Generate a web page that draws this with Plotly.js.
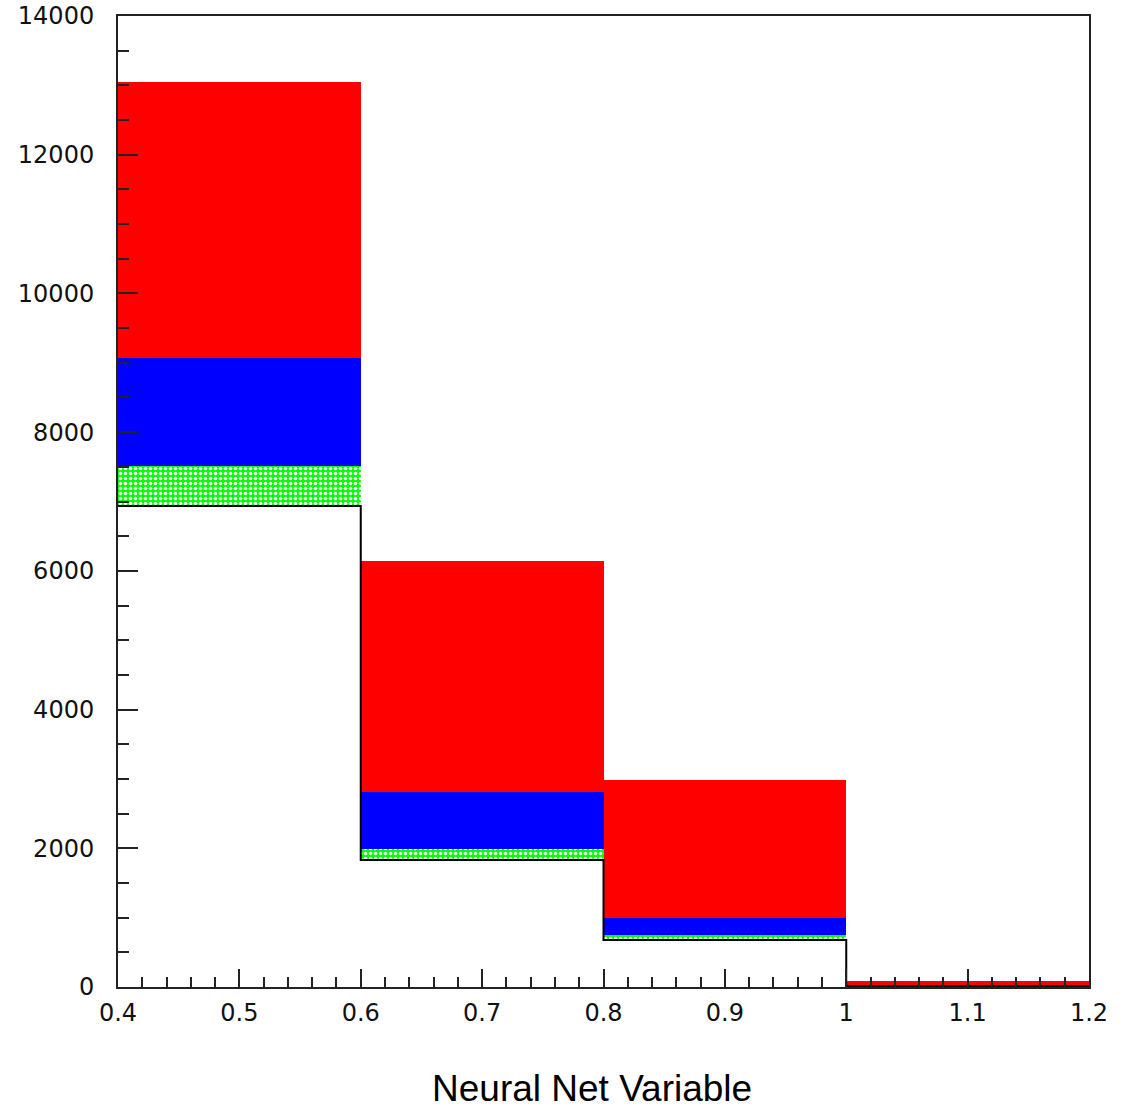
<!DOCTYPE html>
<html>
<head>
<meta charset="utf-8">
<script src="https://cdn.plot.ly/plotly-3.0.1.min.js"></script>
<style>
  html, body { margin: 0; padding: 0; background: #ffffff; }
  #chart { width: 1124px; height: 1110px; }
</style>
</head>
<body>
<div id="chart"></div>
<script>
// Bin layout of the neural-net output histogram
const binCenters = [0.5, 0.7, 0.9, 1.1];
const binEdges = [0.4, 0.6, 0.8, 1.0, 1.2];
const binWidth = 0.2;

// Stacked contributions per bin (events)
const baseCounts  = [6935, 1831, 678, 10];   // open histogram (black outline)
const greenCounts = [577, 159, 72, 5];       // hatched green
const blueCounts  = [1557, 821, 245, 20];
const redCounts   = [3979, 3331, 1989, 50];

// Axis labels
const xTickVals = [0.4, 0.5, 0.6, 0.7, 0.8, 0.9, 1.0, 1.1, 1.2];
const xTickText = ["0.4", "0.5", "0.6", "0.7", "0.8", "0.9", "1", "1.1", "1.2"];
const yTickVals = [0, 2000, 4000, 6000, 8000, 10000, 12000, 14000];
const yTickText = ["0", "2000", "4000", "6000", "8000", "10000", "12000", "14000"];
const xTitle = "Neural Net Variable";

const widths = binCenters.map(() => binWidth);

const traces = [
  {
    type: "bar", x: binCenters, y: baseCounts, width: widths,
    marker: { color: "#ffffff", line: { width: 0 } },
    hoverinfo: "skip", showlegend: false
  },
  {
    type: "bar", x: binCenters, y: greenCounts, width: widths,
    marker: {
      color: "#00ff00",
      line: { width: 0 },
      pattern: { shape: ".", fgcolor: "#ffffff", bgcolor: "#00ff00", size: 5, solidity: 0.4 }
    },
    hoverinfo: "skip", showlegend: false
  },
  {
    type: "bar", x: binCenters, y: blueCounts, width: widths,
    marker: { color: "#0000ff", line: { width: 0 } },
    hoverinfo: "skip", showlegend: false
  },
  {
    type: "bar", x: binCenters, y: redCounts, width: widths,
    marker: { color: "#ff0000", line: { width: 0 } },
    hoverinfo: "skip", showlegend: false
  },
  {
    // step outline of the open histogram
    type: "scatter", mode: "lines",
    x: binEdges,
    y: baseCounts.concat([baseCounts[baseCounts.length - 1]]),
    line: { shape: "hv", color: "#000000", width: 2 },
    hoverinfo: "skip", showlegend: false
  }
];

const tickFont = { family: "DejaVu Sans, Arial, sans-serif", size: 24, color: "#111111" };

const layout = {
  width: 1124,
  height: 1110,
  paper_bgcolor: "#ffffff",
  plot_bgcolor: "#ffffff",
  margin: { l: 118, r: 35, t: 16, b: 123, pad: 0 },
  barmode: "stack",
  bargap: 0,
  showlegend: false,
  xaxis: {
    range: [0.4, 1.2],
    tickvals: xTickVals,
    ticktext: xTickText,
    ticks: "inside",
    ticklen: 18,
    tickwidth: 2,
    tickcolor: "#222222",
    minor: { dtick: 0.02, tick0: 0.4, ticks: "inside", ticklen: 10, tickwidth: 2, tickcolor: "#222222", showgrid: false },
    showline: true,
    linecolor: "#222222",
    linewidth: 2,
    mirror: true,
    showgrid: false,
    zeroline: false,
    tickfont: tickFont,
    ticklabelstandoff: 3,
    fixedrange: true
  },
  yaxis: {
    range: [0, 14000],
    tickvals: yTickVals,
    ticktext: yTickText,
    ticks: "inside",
    ticklen: 20,
    tickwidth: 2,
    tickcolor: "#222222",
    minor: { dtick: 500, tick0: 0, ticks: "inside", ticklen: 11, tickwidth: 2, tickcolor: "#222222", showgrid: false },
    showline: true,
    linecolor: "#222222",
    linewidth: 2,
    mirror: true,
    showgrid: false,
    zeroline: false,
    tickfont: tickFont,
    ticklabelstandoff: 17,
    fixedrange: true
  },
  annotations: [
    {
      text: xTitle,
      xref: "paper", yref: "paper",
      x: 0.488, y: -0.1045,
      xanchor: "center", yanchor: "middle",
      showarrow: false,
      font: { family: "Liberation Sans, Arial, sans-serif", size: 37, color: "#000000" }
    }
  ]
};

Plotly.newPlot("chart", traces, layout, { staticPlot: true, displayModeBar: false });
</script>
</body>
</html>
